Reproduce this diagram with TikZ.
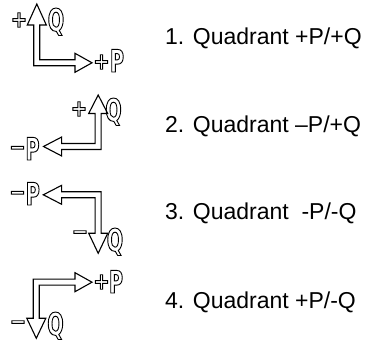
\documentclass[tikz,border=0pt]{standalone}
\usepackage{fontspec}
\setmainfont{Liberation Sans}
\newfontfamily\outlfont{DejaVu Sans}[FakeStretch=0.62]
\newfontfamily\signfont{DejaVu Sans}[FakeStretch=0.85]
\newcommand{\olt}[1]{\special{pdf:literal direct 1 Tr 0.9 w}#1\special{pdf:literal direct 0 Tr}}
\tikzset{
  blockarrow/.style={draw=black, line width=1.1pt, fill=white, line join=miter},
  letter/.style={inner sep=0pt, anchor=base, font=\outlfont\bfseries\fontsize{31}{31}\selectfont},
  sign/.style={inner sep=0pt, anchor=center, font=\signfont\bfseries\fontsize{23}{23}\selectfont},
  qlabel/.style={inner sep=0pt, anchor=base west, font=\fontsize{23}{27}\selectfont}
}
\begin{document}
\begin{tikzpicture}[x=1pt,y=-1pt]
\useasboundingbox (0,0) rectangle (368,342);
% ---- panel 1 ----
\draw[blockarrow] (33.8,65.8) -- (33.8,25) -- (27.3,25) -- (36.8,4) -- (46.3,25) -- (39.8,25)
  -- (39.8,59.8) -- (75,59.8) -- (75,53.3) -- (92,62.8) -- (75,72.3) -- (75,65.8) -- cycle;
\node[sign] (s1a) at (19,20) {\olt{+}};
\node[letter] (q1) at (56,31) {\olt{Q}};
\node[sign] (s1b) at (101.5,62) {\olt{+}};
\node[letter] (p1) at (117,72) {\olt{P}};
\node[qlabel] (t1) at (165,45) {1. Quadrant +P/+Q};
% ---- panel 2 ----
\draw[blockarrow] (101.2,149.5) -- (101.2,113.5) -- (107.7,113.5) -- (98.2,95) -- (88.7,113.5) -- (95.2,113.5)
  -- (95.2,143.5) -- (61.7,143.5) -- (61.7,137) -- (43.5,146.5) -- (61.7,156) -- (61.7,149.5) -- cycle;
\node[sign] (s2a) at (79,109) {\olt{+}};
\node[letter] (q2) at (113.5,121) {\olt{Q}};
\node[sign] (s2b) at (17.5,150.7) {\olt{−}};
\node[letter] (p2) at (32.5,160) {\olt{P}};
\node[qlabel] (t2) at (165,133) {2. Quadrant –P/+Q};
% ---- panel 3 ----
\draw[blockarrow] (101.2,191.8) -- (101.2,233.3) -- (107.7,233.3) -- (98.2,253.3) -- (88.7,233.3) -- (95.2,233.3)
  -- (95.2,197.8) -- (61.7,197.8) -- (61.7,204.3) -- (43.3,194.8) -- (61.7,185.3) -- (61.7,191.8) -- cycle;
\node[sign] (s3a) at (17.5,195.7) {\olt{−}};
\node[letter] (p3) at (32.8,205) {\olt{P}};
\node[sign] (s3b) at (80,235) {\olt{−}};
\node[letter] (q3) at (115,251) {\olt{Q}};
\node[qlabel] (t3) at (165,220) {3. Quadrant \ -P/-Q};
% ---- panel 4 ----
\draw[blockarrow] (33.3,279.2) -- (75,279.2) -- (75,272.7) -- (92,282.2) -- (75,291.7) -- (75,285.2)
  -- (39.3,285.2) -- (39.3,318.3) -- (45.8,318.3) -- (36.3,338.3) -- (26.8,318.3) -- (33.3,318.3) -- cycle;
\node[sign] (s4a) at (101.5,282) {\olt{+}};
\node[letter] (p4) at (116,293) {\olt{P}};
\node[sign] (s4b) at (18,325) {\olt{−}};
\node[letter] (q4) at (55.5,335) {\olt{Q}};
\node[qlabel] (t4) at (165,309) {4. Quadrant +P/-Q};
\end{tikzpicture}
\end{document}
